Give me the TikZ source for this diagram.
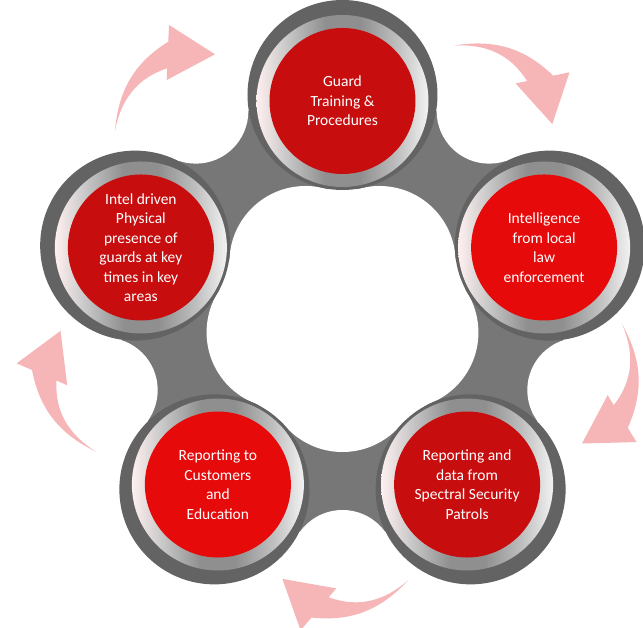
\documentclass[tikz,border=0pt]{standalone}
\usepackage[rgb]{xcolor}
\usepackage{fontspec}
\setmainfont{Carlito}
\usepackage{tikz}
\definecolor{neck_gray}{HTML}{777777}
\definecolor{rim_gray}{HTML}{636363}
\definecolor{dark_red}{HTML}{C80D0F}
\definecolor{bright_red}{HTML}{E60A0B}
\definecolor{arrow_pink}{HTML}{F6B5B6}
\pgfdeclarehorizontalshading{silver_ring}{100bp}{
    color(0bp)=(white!94!red); color(25bp)=(white!94!red); color(34bp)=(black!22);
    color(45bp)=(black!44); color(55bp)=(black!44); color(66bp)=(black!25);
    color(75bp)=(black!5); color(100bp)=(black!5)}

\tikzset{
    bubble/.style={circle, minimum size=146pt, inner sep=0pt, align=center,
        text=white, font=\fontsize{15.5}{19.5}\selectfont},
    silver/.style={shading=silver_ring}
}

\begin{document}
\begin{tikzpicture}[x=1pt, y=1pt]

        \useasboundingbox (-342.5, -315) rectangle (300.5, 313);
        \clip (-342.5, -315) rectangle (300.5, 313);
        \fill [white] (-342.5, -315) rectangle (300.5, 313);

        % gray necks between the circles
        \fill [neck_gray] (54:249.5) -- (-18:249.5) -- (-90:249.5) -- (-162:249.5) -- (126:249.5) -- cycle;
        \foreach \a in {54, -18, -90, -162, 126}
            \fill [white] (\a:249.5) circle (52.5);
        \fill [white] (0, 0) circle (125);
        \foreach \a in {54, -18, -90, -162, 126}
            \fill [white] (\a:62.8) circle (76.2);

        % rims and silver rings
        \foreach \a in {90, 18, -54, -126, 162} {
            \fill [rim_gray] (\a:218) circle (95);
            \shade [silver] (\a:212) circle (86);
        }

        \node[bubble, fill=dark_red] (guard) at (90:212) {Guard\\Training \&\\Procedures};
        \node[bubble, fill=bright_red] (intel) at (18:212) {Intelligence\\from local\\law\\enforcement};
        \node[bubble, fill=dark_red] (patrols) at (-54:212) {Reporting and\\data from\\Spectral Security\\Patrols};
        \node[bubble, fill=bright_red] (customers) at (-126:212) {Reporting to\\Customers\\and\\Education};
        \node[bubble, fill=dark_red] (presence) at (162:212) {Intel driven\\Physical\\presence of\\guards at key\\times in key\\areas};

        % curved arrows round the cycle
        \foreach \r in {0, -76, -146, -218, -291}
            \fill [arrow_pink, shift={(-3.5, 8)}, rotate=\r]
                (-224, 174.3) to[out=85, in=212] (-170.7, 263.3) -- (-170, 280) -- (-124, 250.7)
                -- (-172.3, 225) -- (-171.8, 236.7) to[out=198, in=79] (-224, 174.3) -- cycle;

\end{tikzpicture}
\end{document}
